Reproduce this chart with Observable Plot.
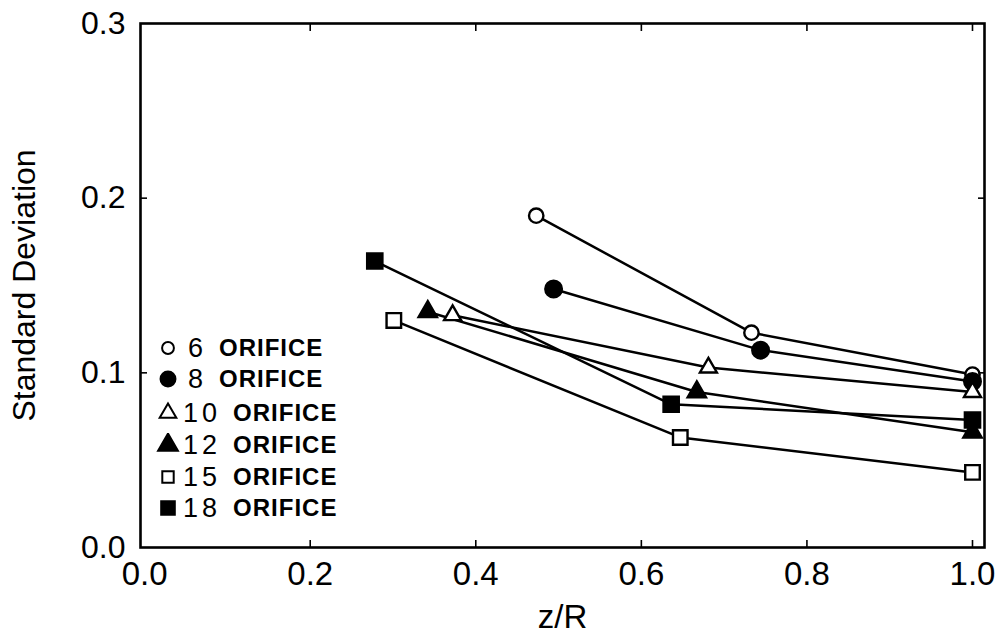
<!DOCTYPE html>
<html><head><meta charset="utf-8">
<script src="https://cdn.jsdelivr.net/npm/d3@7"></script>
<script src="https://cdn.jsdelivr.net/npm/@observablehq/plot@0.6"></script>
<style>
body{margin:0;background:#fff;}
#wrap{position:relative;width:1002px;height:635px;overflow:hidden;background:#fff;}
.row{position:absolute;left:156px;height:30px;display:flex;align-items:center;white-space:nowrap;font-family:"Liberation Sans",Arial,sans-serif;color:#000;}
.sym{width:24px;height:24px;display:inline-block;}
.num{font-size:27px;letter-spacing:4px;margin-left:3px;margin-right:12px;}
.ori{font-size:24px;font-weight:bold;letter-spacing:1px;}
</style></head><body><div id="wrap"></div>
<script>
// ---- data ----
const orifices = ["6", "8", "10", "12", "15", "18"];
const zR_6  = [0.473, 0.733, 1.0];  const sd_6  = [0.190, 0.123, 0.099];
const zR_8  = [0.494, 0.744, 1.0];  const sd_8  = [0.148, 0.113, 0.095];
const zR_10 = [0.372, 0.681, 1.0];  const sd_10 = [0.133, 0.103, 0.089];
const zR_12 = [0.342, 0.667, 1.0];  const sd_12 = [0.135, 0.089, 0.066];
const zR_15 = [0.301, 0.647, 1.0];  const sd_15 = [0.130, 0.063, 0.043];
const zR_18 = [0.278, 0.636, 1.0];  const sd_18 = [0.164, 0.082, 0.073];
const xTicks = [0.0, 0.2, 0.4, 0.6, 0.8, 1.0];
const yTicks = [0.0, 0.1, 0.2, 0.3];
const legendLabels = ["6  ORIFICE", "8  ORIFICE", "10 ORIFICE", "12 ORIFICE", "15 ORIFICE", "18 ORIFICE"];

// ---- styles per series ----
const symbols = ["circle", "circle", "triangle", "triangle", "square", "square"];
const fills   = ["white", "black", "white", "black", "white", "black"];
const radii   = [7.2, 8.3, 6.3, 6.8, 8.2, 8.6];

const zRs = [zR_6, zR_8, zR_10, zR_12, zR_15, zR_18];
const sds = [sd_6, sd_8, sd_10, sd_12, sd_15, sd_18];
const data = orifices.flatMap((o, i) => zRs[i].map((z, j) => ({orifice: o, zR: z, sd: sds[i][j], idx: i})));

const font = '"Liberation Sans", Arial, sans-serif';

const marks = [
  Plot.line(data, {x: "zR", y: "sd", z: "orifice", stroke: "black", strokeWidth: 2.5}),
  ...orifices.map((o, i) => Plot.dot(data.filter(d => d.idx === i), {
    x: "zR", y: "sd", symbol: () => symbols[i], r: radii[i],
    fill: fills[i], stroke: "black", strokeWidth: 2.4
  })),
  Plot.frame({stroke: "black", strokeWidth: 2.6}),
  // inward ticks
  Plot.axisX(xTicks.slice(1), {anchor: "bottom", tickSize: -7, tickFormat: () => "", label: null, strokeWidth: 1.6}),
  Plot.axisX(xTicks.slice(1), {anchor: "top", tickSize: -7, tickFormat: () => "", label: null, strokeWidth: 1.6}),
  Plot.axisY(yTicks.slice(1, 3), {anchor: "left", tickSize: -7, tickFormat: () => "", label: null, strokeWidth: 1.6}),
  Plot.axisY(yTicks.slice(1, 3), {anchor: "right", tickSize: -7, tickFormat: () => "", label: null, strokeWidth: 1.6}),
  // labels
  Plot.axisX(xTicks, {anchor: "bottom", tickSize: 0, tickPadding: 14, tickFormat: d3.format(".1f"),
    fontSize: 33, label: "z/R", labelAnchor: "center", labelArrow: "none", labelOffset: 80}),
  Plot.axisY(yTicks, {anchor: "left", tickSize: 0, tickPadding: 15, tickFormat: d3.format(".1f"),
    fontSize: 32, label: "Standard Deviation", labelAnchor: "center", labelArrow: "none", labelOffset: 128})
];

const chart = Plot.plot({
  width: 1002, height: 635,
  marginLeft: 140, marginRight: 18, marginTop: 23, marginBottom: 88,
  style: {fontFamily: font, color: "black", background: "white", fontSize: "33px"},
  x: {domain: [-0.005, 1.0145]},
  y: {domain: [0, 0.3]},
  marks
});
const wrap = document.getElementById("wrap");
wrap.appendChild(chart);

// ---- legend (HTML overlay inside the plot frame) ----
const rowCenters = [348, 379, 413, 445, 477, 508];
const symSizes = [110, 175, 120, 170, 130, 185];
orifices.forEach((o, i) => {
  const row = document.createElement("div");
  row.className = "row";
  row.style.top = (rowCenters[i] - 15) + "px";
  const svg = d3.create("svg").attr("class", "sym").attr("viewBox", "-12 -12 24 24");
  const typ = symbols[i] === "circle" ? d3.symbolCircle : symbols[i] === "triangle" ? d3.symbolTriangle : d3.symbolSquare;
  svg.append("path").attr("d", d3.symbol(typ, symSizes[i])())
    .attr("fill", fills[i]).attr("stroke", "black").attr("stroke-width", 2);
  row.appendChild(svg.node());
  const parts = legendLabels[i].split(/\s+/);
  const n = document.createElement("span"); n.className = "num"; n.textContent = parts[0];
  if (parts[0].length === 1) { n.style.marginRight = "12px"; n.style.marginLeft = "8px"; }
  const t = document.createElement("span"); t.className = "ori"; t.textContent = parts[1];
  row.appendChild(n); row.appendChild(t);
  wrap.appendChild(row);
});
</script></body></html>
